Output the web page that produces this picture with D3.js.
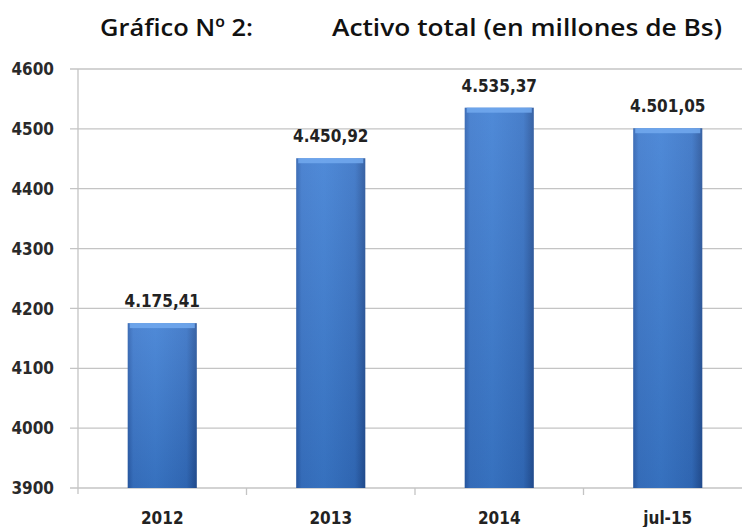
<!DOCTYPE html>
<html><head><meta charset="utf-8">
<script src="https://cdn.jsdelivr.net/npm/d3@7"></script>
<style>body{margin:0;background:#fff;}svg{display:block;}</style>
</head><body><svg id="c" width="742" height="527"></svg>
<script>
const categories = ["2012", "2013", "2014", "jul-15"];
const values = [4175.41, 4450.92, 4535.37, 4501.05];
const valueLabels = ["4.175,41", "4.450,92", "4.535,37", "4.501,05"];
const yTicks = [3900, 4000, 4100, 4200, 4300, 4400, 4500, 4600];
const titleLeft = "Gráfico Nº 2:";
const titleRight = "Activo total (en millones de Bs)";

const FONT = "'DejaVu Sans Condensed', 'DejaVu Sans', sans-serif";
const svg = d3.select("#c");
const x = d3.scaleBand().domain(categories).range([78, 752]).paddingInner(0.59).paddingOuter(0.295);
const y = d3.scaleLinear().domain([3900, 4600]).range([488, 69]);

const defs = svg.append("defs");
const g1 = defs.append("linearGradient").attr("id","bh").attr("x1","0").attr("x2","1").attr("y1","0").attr("y2","0");
[["0%","#2a5eae"],["8%","#3a77cc"],["40%","#3c7dd3"],["85%","#3470c4"],["100%","#24529a"]].forEach(s=>g1.append("stop").attr("offset",s[0]).attr("stop-color",s[1]));
const g2 = defs.append("linearGradient").attr("id","bv").attr("x1","0").attr("x2","0").attr("y1","0").attr("y2","1");
[["0%","#ffffff",0.1],["100%","#000000",0.1]].forEach(s=>g2.append("stop").attr("offset",s[0]).attr("stop-color",s[1]).attr("stop-opacity",s[2]));

// gridlines
svg.append("g").selectAll("line").data(yTicks).join("line")
  .attr("x1",70).attr("x2",742).attr("y1",d=>y(d)).attr("y2",d=>y(d))
  .attr("stroke","#c4c4c4").attr("stroke-width",1.3);
// y axis line
svg.append("line").attr("x1",78).attr("x2",78).attr("y1",y(4600)).attr("y2",y(3900)+6).attr("stroke","#c4c4c4").attr("stroke-width",1.3);
// category ticks
svg.append("g").selectAll("line").data(categories.slice(1)).join("line")
  .attr("x1",d=>x(d)-x.step()*0.295).attr("x2",d=>x(d)-x.step()*0.295)
  .attr("y1",y(3900)).attr("y2",y(3900)+7).attr("stroke","#c4c4c4").attr("stroke-width",1.3);

// y tick labels
svg.append("g").selectAll("text").data(yTicks).join("text")
  .attr("x",54).attr("y",d=>y(d)).attr("dy","0.36em").attr("text-anchor","end")
  .attr("font-family",FONT).attr("font-weight","bold").attr("font-size",17)
  .attr("fill","#2a2a2a").text(d=>d);

// bars
const bars = svg.append("g").selectAll("g").data(categories).join("g");
bars.append("rect").attr("x",d=>x(d)).attr("width",x.bandwidth())
  .attr("y",(d,i)=>y(values[i])).attr("height",(d,i)=>y(3900)-y(values[i]))
  .attr("fill","url(#bh)");
bars.append("rect").attr("x",d=>x(d)).attr("width",x.bandwidth())
  .attr("y",(d,i)=>y(values[i])).attr("height",(d,i)=>y(3900)-y(values[i]))
  .attr("fill","url(#bv)");
bars.append("rect").attr("x",d=>x(d)+2).attr("width",x.bandwidth()-4)
  .attr("y",(d,i)=>y(values[i])).attr("height",5)
  .attr("fill","#72a9ee").attr("opacity",0.85);

// value labels
svg.append("g").selectAll("text").data(categories).join("text")
  .attr("x",d=>x(d)+x.bandwidth()/2).attr("y",(d,i)=>y(values[i])-16)
  .attr("text-anchor","middle").attr("font-family",FONT).attr("font-weight","bold")
  .attr("font-size",17).attr("fill","#222").text((d,i)=>valueLabels[i]);

// x labels
svg.append("g").selectAll("text").data(categories).join("text")
  .attr("x",d=>x(d)+x.bandwidth()/2).attr("y",524)
  .attr("text-anchor","middle").attr("font-family",FONT).attr("font-weight","bold")
  .attr("font-size",17).attr("fill","#222").text(d=>d);

// title
svg.append("text").attr("x",100).attr("y",36).attr("font-family","Open Sans").attr("font-weight",600)
  .attr("font-size",24).attr("fill","#111").attr("textLength",153).attr("lengthAdjust","spacingAndGlyphs").text(titleLeft);
svg.append("text").attr("x",332).attr("y",36).attr("font-family","Open Sans").attr("font-weight",600)
  .attr("font-size",24).attr("fill","#111").attr("textLength",390).attr("lengthAdjust","spacingAndGlyphs").text(titleRight);
</script></body></html>
